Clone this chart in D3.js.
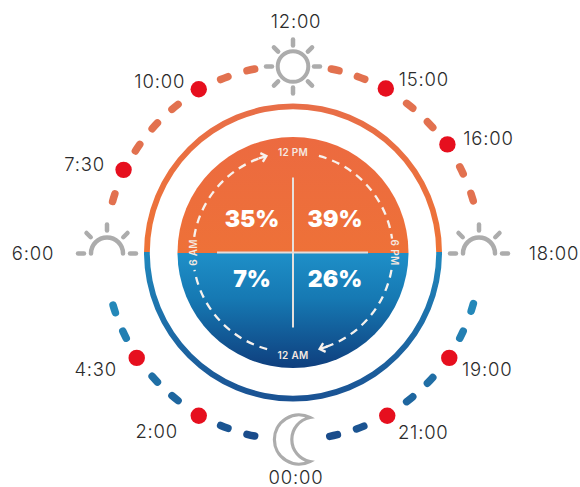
<!DOCTYPE html>
<html>
<head>
<meta charset="utf-8">
<style>
  html, body { margin: 0; padding: 0; background: #fff; }
  text { font-family: Inter, "Open Sans", sans-serif; }
</style>
<script src="https://cdn.jsdelivr.net/npm/d3@7"></script>
</head>
<body>
<div id="chart"></div>
<script>
// marked times around the clock, angle in degrees clockwise from 12:00
const timeLabels = ['15:00', '16:00', '19:00', '21:00', '2:00', '4:30', '7:30', '10:00'];
const timeAngles = [29.5, 55, 124, 150, 210, 236, 296, 330];

// dashes of the outer track
const dashAngles = [13, 21.3, 38.5, 47, 64, 72.8, 107, 116, 133, 141.5, 159, 167.5,
                    193, 201.5, 219, 227.5, 244, 252.5, 287, 304, 312.5, 321, 338.5, 347];

// share per quadrant
const quadrantLabels = ['35%', '39%', '7%', '26%'];

// inner clock
const innerArcs = [[279, 343], [15, 82], [100, 162], [195, 260]];

const width = 580, height = 487;
const cx = 293, cy = 252.5;

// label offset from its dot, same order as timeLabels
const labelOffsets = [[38, -9], [41, -6], [38, 11], [36, 16], [-42, 15], [-41, 11], [-39, -6], [-39, -8]];

const deg = d3.scaleLinear().domain([0, 360]).range([0, 2 * Math.PI]);

// night dashes get darker towards 00:00
const nightColor = d3.scaleLinear().domain([13, 73]).range(['#1a4c8b', '#2488b9']);

const svg = d3.select('#chart').append('svg')
    .attr('width', width)
    .attr('height', height)
    .style('display', 'block');

const defs = svg.append('defs');

function gradient(id, y1, y2, stops) {
    const g = defs.append('linearGradient')
        .attr('id', id)
        .attr('gradientUnits', 'userSpaceOnUse')
        .attr('x1', 0).attr('x2', 0)
        .attr('y1', y1).attr('y2', y2);
    stops.forEach(s => g.append('stop').attr('offset', s[0]).attr('stop-color', s[1]));
}

// open arc, d3.arc closes the path when both radii are equal
function openArc(r, a0, a1) {
    const p0 = d3.pointRadial(deg(a0), r), p1 = d3.pointRadial(deg(a1), r);
    return `M${p0[0]},${p0[1]}A${r},${r} 0 0 1 ${p1[0]},${p1[1]}`;
}

gradient('ring', -150, 150, [[0, '#e86e48'], [0.5, '#ee7336'], [0.5, '#2088bd'], [1, '#1a5192']]);
gradient('disc', -115, 115, [[0, '#ec6a40'], [0.5, '#ee7138'], [0.5, '#1e8fc8'], [0.7, '#1679b3'], [1, '#0f3f7e']]);

const g = svg.append('g').attr('transform', `translate(${cx},${cy})`);

// outer ring
g.append('path')
    .attr('d', d3.arc().innerRadius(143.2).outerRadius(149).startAngle(0).endAngle(2 * Math.PI)())
    .attr('fill', 'url(#ring)');

// disc
g.append('circle').attr('r', 115.5).attr('fill', 'url(#disc)');

// cross
g.append('line').attr('x1', -76).attr('x2', 75).attr('stroke', '#e6dcd8').attr('stroke-width', 2);
g.append('line').attr('y1', -75).attr('y2', 75).attr('stroke', '#e6e0dc').attr('stroke-width', 2);

// dashed clock
g.selectAll('path.clock').data(innerArcs).enter().append('path')
    .attr('class', 'clock')
    .attr('d', d => openArc(100, d[0], d[1]))
    .attr('fill', 'none')
    .attr('stroke', '#f7f2ee')
    .attr('stroke-width', 2.3)
    .attr('stroke-dasharray', '8 6');

// arrow heads at 12 PM and 12 AM
[344, 164].forEach(a => {
    const p = d3.pointRadial(deg(a), 100);
    g.append('path')
        .attr('d', 'M-4,-4.5L1,0L-4,4.5M1,0L-7,0')
        .attr('transform', `translate(${p[0]},${p[1]}) rotate(${a})`)
        .attr('fill', 'none')
        .attr('stroke', '#f7f2ee')
        .attr('stroke-width', 2.3);
});

const clockText = (t, x, y, rot) => g.append('text')
    .attr('transform', `translate(${x},${y}) rotate(${rot})`)
    .attr('text-anchor', 'middle')
    .attr('dominant-baseline', 'central')
    .attr('font-size', 10)
    .attr('font-weight', 600)
    .attr('letter-spacing', 0.3)
    .attr('fill', '#f5e8e0')
    .text(t);
clockText('12 PM', 0, -101, 0);
clockText('12 AM', 0, 102, 0);
clockText('6 AM', -100.5, 0, -90);
clockText('6 PM', 102, 0, 90);

// percentages
const quadX = d3.scalePoint().domain([0, 1]).range([-41, 42]);
const quadY = d3.scalePoint().domain([0, 1]).range([-33.5, 26.5]);
g.selectAll('text.share').data(quadrantLabels).enter().append('text')
    .attr('class', 'share')
    .attr('x', (d, i) => quadX(i % 2))
    .attr('y', (d, i) => quadY(i >> 1))
    .attr('text-anchor', 'middle')
    .attr('dominant-baseline', 'central')
    .attr('font-size', 23)
    .attr('font-weight', 900)
    .attr('fill', '#fff')
    .text(d => d);

// track dashes
g.selectAll('path.dash').data(dashAngles).enter().append('path')
    .attr('class', 'dash')
    .attr('d', d => openArc(187.5, d - 1.2, d + 1.2))
    .attr('fill', 'none')
    .attr('stroke', d => (d > 90 && d < 270) ? nightColor(Math.abs(d - 180)) : '#e2714f')
    .attr('stroke-width', 7.5)
    .attr('stroke-linecap', 'round');

// red dots and labels
const dots = g.selectAll('g.time').data(timeLabels).enter().append('g')
    .attr('class', 'time')
    .attr('transform', (d, i) => {
        const p = d3.pointRadial(deg(timeAngles[i]), 188.5);
        return `translate(${p[0]},${p[1]})`;
    });
dots.append('circle').attr('r', 8.2).attr('fill', '#e60f1e');
dots.append('text')
    .attr('x', (d, i) => labelOffsets[i][0])
    .attr('y', (d, i) => labelOffsets[i][1])
    .attr('text-anchor', 'middle')
    .attr('dominant-baseline', 'central')
    .attr('font-size', 18.5)
    .attr('font-weight', 300)
    .attr('letter-spacing', 0.8)
    .attr('fill', '#2b2b2b')
    .text(d => d);

// icons
const iconColor = '#acacac';

function rays(sel, angles, r0, r1) {
    angles.forEach(a => {
        const p0 = d3.pointRadial(deg(a), r0), p1 = d3.pointRadial(deg(a), r1);
        sel.append('line')
            .attr('x1', p0[0]).attr('y1', p0[1])
            .attr('x2', p1[0]).attr('y2', p1[1])
            .attr('stroke', iconColor)
            .attr('stroke-width', 4.5)
            .attr('stroke-linecap', 'round');
    });
}

const sun = g.append('g').attr('transform', 'translate(0,-186)');
sun.append('circle').attr('r', 15.3).attr('fill', '#fff').attr('stroke', iconColor).attr('stroke-width', 4);
rays(sun, d3.range(0, 360, 45), 21, 27);

function horizon(x) {
    const h = g.append('g').attr('transform', `translate(${x},1)`);
    h.append('path')
        .attr('d', openArc(16, -90, 90))
        .attr('fill', 'none').attr('stroke', iconColor).attr('stroke-width', 4.5).attr('stroke-linecap', 'round');
    rays(h, [-90, -45, 0, 45, 90], 23, 29);
}
horizon(-186);
horizon(186);

g.append('path')
    .attr('transform', 'translate(0,187)')
    .attr('d', 'M17,-22A24.6,24.6 0 1 0 17,22A22.4,22.4 0 0 1 17,-22Z')
    .attr('fill', '#fff')
    .attr('stroke', iconColor)
    .attr('stroke-width', 3.2);

// icon labels
const iconText = (t, x, y) => g.append('text')
    .attr('x', x).attr('y', y)
    .attr('text-anchor', 'middle')
    .attr('dominant-baseline', 'central')
    .attr('font-size', 18.5)
    .attr('font-weight', 300)
    .attr('letter-spacing', 0.8)
    .attr('fill', '#2b2b2b')
    .text(t);
iconText('12:00', 3, -231.5);
iconText('6:00', -260, 0.5);
iconText('18:00', 261, 0.5);
iconText('00:00', 3, 224);
</script>
</body>
</html>
